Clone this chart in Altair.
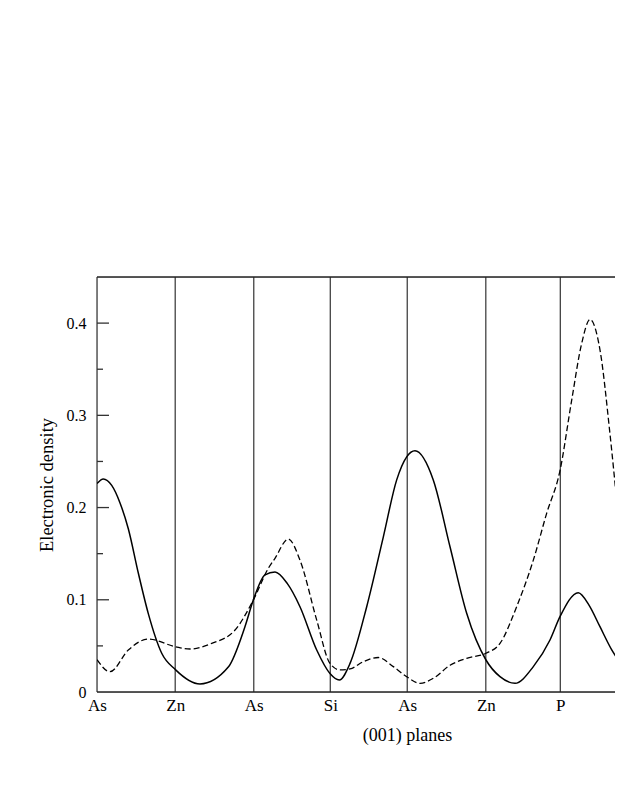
import json
import altair as alt
import pandas as pd

# Plane positions (in plane-spacing units) and names
plane_pos = [0, 1.009, 2.023, 3.010, 4.003, 5.017, 5.978]
plane_names = ["As", "Zn", "As", "Si", "As", "Zn", "P"]

# Solid curve
solid_x = [0, 0.081, 0.190, 0.297, 0.404, 0.533, 0.662, 0.835, 1.015, 1.329, 1.694,
           1.910, 2.017, 2.168, 2.297, 2.452, 2.619, 2.835, 3.006, 3.126, 3.265,
           3.480, 3.694, 3.867, 3.996, 4.103, 4.339, 4.555, 4.770, 5.019, 5.200,
           5.394, 5.630, 5.845, 5.974, 6.210, 6.350, 6.490, 6.640, 6.787]
solid_y = [0.226, 0.231, 0.224, 0.205, 0.177, 0.129, 0.085, 0.042, 0.024, 0.0087, 0.027,
           0.071, 0.0997, 0.127, 0.130, 0.118, 0.0925, 0.0455, 0.020, 0.013, 0.031,
           0.0925, 0.168, 0.230, 0.255, 0.2616, 0.230, 0.1575, 0.0853, 0.0347, 0.0166,
           0.0094, 0.0275, 0.0564, 0.0817, 0.1077, 0.094, 0.0708, 0.046, 0.0275]

# Dashed curve
dashed_x = [0, 0.168, 0.404, 0.662, 1.015, 1.200, 1.480, 1.781, 2.017, 2.210,
            2.297, 2.468, 2.619, 2.835, 3.006, 3.135, 3.265, 3.436, 3.630, 3.823,
            3.996, 4.168, 4.339, 4.555, 4.770, 5.019, 5.200, 5.415, 5.630, 5.803,
            5.974, 6.125, 6.254, 6.361, 6.490, 6.619, 6.706, 6.787]
dashed_y = [0.035, 0.022, 0.0455, 0.0574, 0.049, 0.0466, 0.0527, 0.0672, 0.0997, 0.134,
            0.145, 0.1659, 0.143, 0.078, 0.031, 0.024, 0.025, 0.0329, 0.0374, 0.0275,
            0.0166, 0.0094, 0.0148, 0.029, 0.0365, 0.042, 0.0527, 0.0925, 0.143, 0.194,
            0.240, 0.3165, 0.378, 0.404, 0.371, 0.280, 0.208, 0.142]

y_major = [0.1, 0.2, 0.3, 0.4]
y_minor = [0.05, 0.15, 0.25, 0.35]
y_labels = [0, 0.1, 0.2, 0.3, 0.4]
y_frame = [0, 0.45]

FONT = "Liberation Serif"
PX_PER_UNIT = 77.5
W, H = 518, 415

label_expr = f"{json.dumps(plane_names)}[indexof({json.dumps(plane_pos)}, datum.value)]"

x_scale = alt.Scale(domain=[0, W / PX_PER_UNIT], nice=False, zero=False)
y_scale = alt.Scale(domain=[0, 0.45], nice=False, zero=False)

x_axis = alt.Axis(values=plane_pos, labelExpr=label_expr, title="(001) planes",
                  grid=False, domain=False, ticks=False, tickSize=0, labelPadding=5,
                  labelFont=FONT, labelFontSize=17, labelColor="black",
                  labelFlush=False, labelOverlap=False,
                  titleFont=FONT, titleFontSize=18, titleFontWeight="normal",
                  titleColor="black", titleX=310, titleY=43,
                  titleAlign="center", titleBaseline="middle")
y_axis = alt.Axis(values=y_labels, format=".1~f", title="Electronic density",
                  grid=False, domain=False, ticks=False, tickSize=0, labelPadding=11,
                  labelFont=FONT, labelFontSize=16, labelColor="black",
                  titleFont=FONT, titleFontSize=18.5, titleFontWeight="normal",
                  titleColor="black", titleX=-51, titleY=207.5, titleAngle=270,
                  titleAlign="center", titleBaseline="middle")

solid_df = pd.DataFrame({"x": solid_x, "y": solid_y})
dashed_df = pd.DataFrame({"x": dashed_x, "y": dashed_y})
planes_df = pd.DataFrame({"x": plane_pos, "name": plane_names})
major_df = pd.DataFrame({"y": y_major})
minor_df = pd.DataFrame({"y": y_minor})
frame_df = pd.DataFrame({"y": y_frame})

planes = alt.Chart(planes_df).mark_rule(color="#333333", strokeWidth=1.2).encode(
    x=alt.X("x:Q", scale=x_scale, axis=x_axis),
)

frame = alt.Chart(frame_df).mark_rule(color="#222222", strokeWidth=1.6).encode(
    y=alt.Y("y:Q", scale=y_scale, axis=y_axis),
)

solid = alt.Chart(solid_df).mark_line(color="black", strokeWidth=1.5,
                                      interpolate="monotone", clip=True).encode(
    x=alt.X("x:Q", scale=x_scale, axis=x_axis),
    y=alt.Y("y:Q", scale=y_scale, axis=y_axis),
)

dashed = alt.Chart(dashed_df).mark_line(color="black", strokeWidth=1.3,
                                        strokeDash=[6, 3],
                                        interpolate="monotone", clip=True).encode(
    x=alt.X("x:Q", scale=x_scale, axis=x_axis),
    y=alt.Y("y:Q", scale=y_scale, axis=y_axis),
)

major = alt.Chart(major_df).mark_rule(color="#333333", strokeWidth=1.3).encode(
    y=alt.Y("y:Q", scale=y_scale, axis=y_axis),
    x=alt.value(0), x2=alt.value(12),
)
minor = alt.Chart(minor_df).mark_rule(color="#333333", strokeWidth=1.3).encode(
    y=alt.Y("y:Q", scale=y_scale, axis=y_axis),
    x=alt.value(0), x2=alt.value(6),
)

chart = alt.layer(planes, frame, major, minor, dashed, solid).properties(
    width=W, height=H,
    autosize=alt.AutoSizeParams(type="none"),
    padding={"left": 89, "top": 269, "right": 0, "bottom": 70},
).configure_view(
    stroke=None
).configure(background="white")

chart.save("out.html", embed_options={"renderer": "svg", "actions": False})
